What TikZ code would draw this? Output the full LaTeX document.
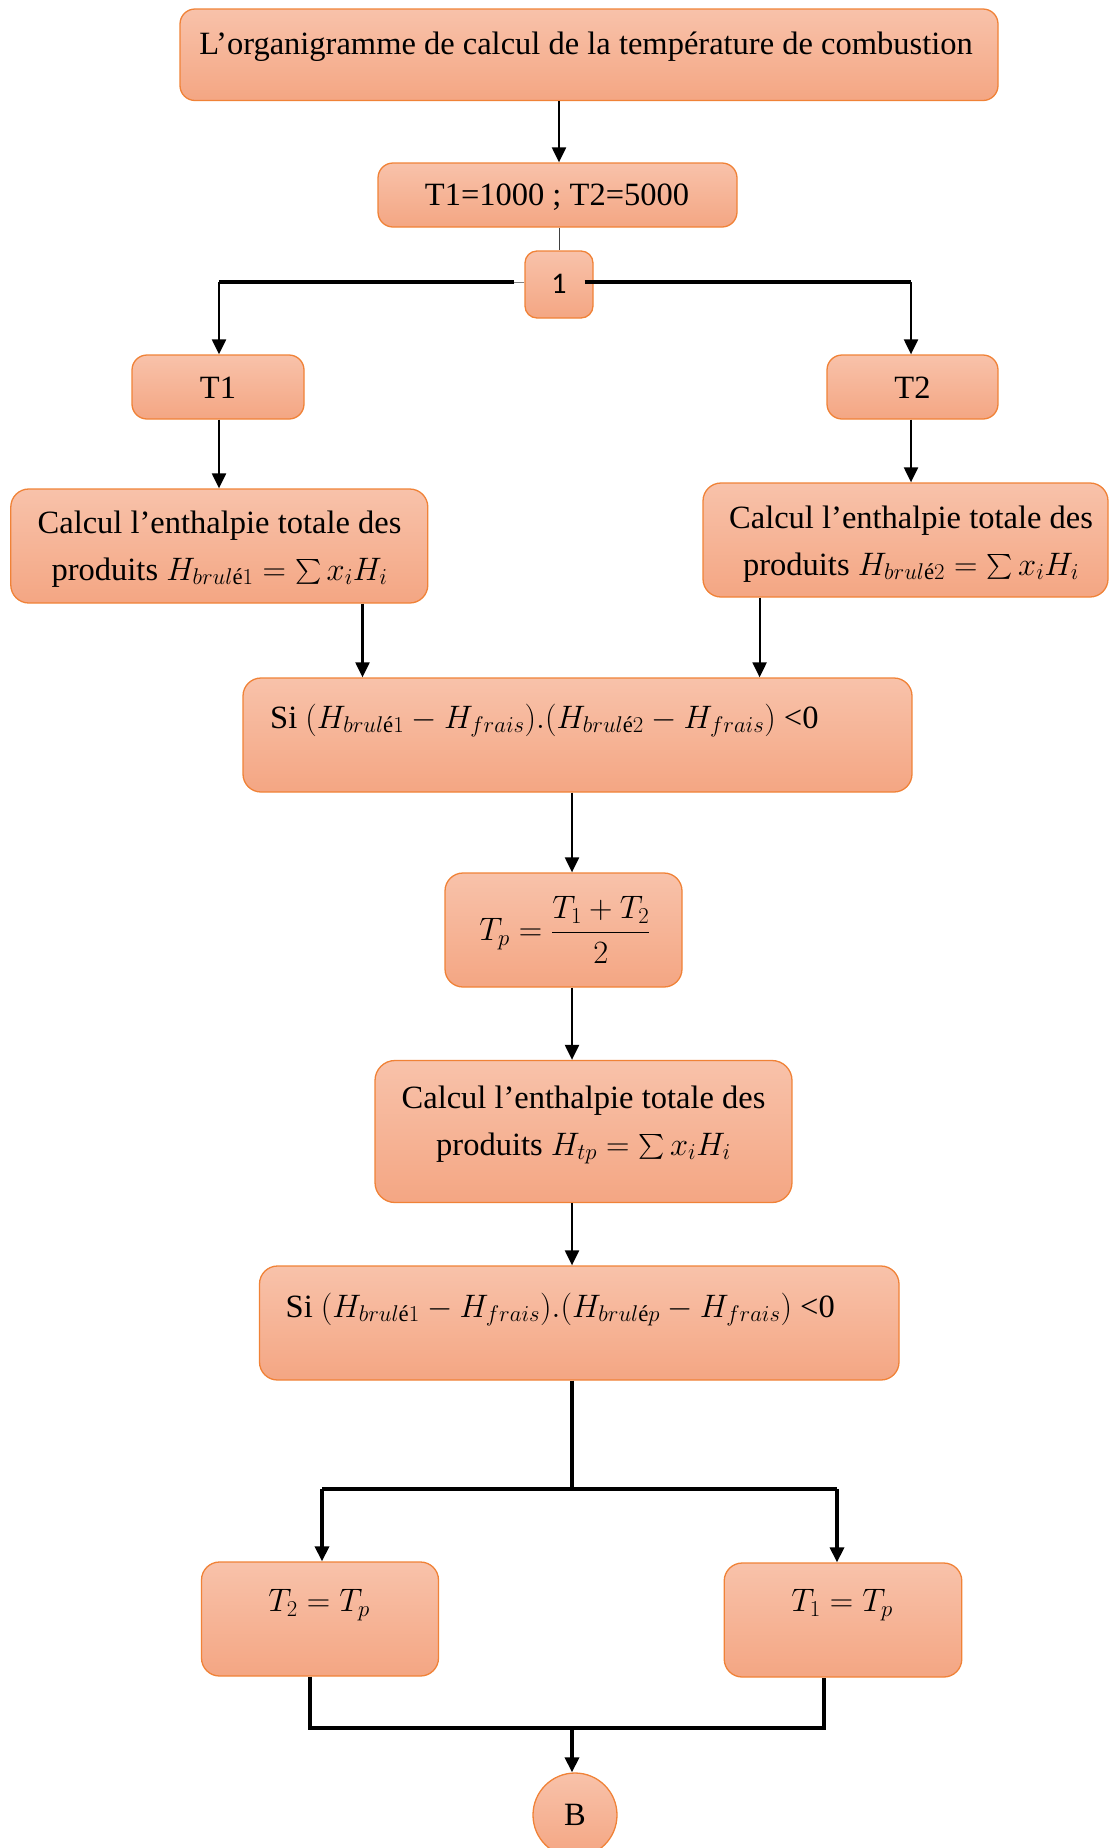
\RequirePackage{fix-cm}
\documentclass[tikz,border=0pt]{standalone}
\usepackage{amsmath}
\usepackage{fontspec}
\setmainfont{Liberation Serif}
\newfontfamily\numfont{Carlito}
\usetikzlibrary{arrows.meta}

\definecolor{boxtop}{RGB}{248,194,170}
\definecolor{boxbot}{RGB}{244,166,131}
\definecolor{boxline}{RGB}{240,130,55}

\begin{document}
\begin{tikzpicture}[x=1pt,y=-1pt,
  box/.style={draw=boxline, line width=1.3pt, top color=boxtop, bottom color=boxbot,
              rounded corners=15pt, inner sep=0pt},
  txt/.style={font=\fontsize{32.5}{40}\selectfont, inner sep=0pt},
  twoline/.style={font=\fontsize{32.5}{47}\selectfont, inner sep=0pt, align=center, anchor=base},
  arr/.style={line width=2.2pt, -{Triangle[length=15pt,width=14pt]}},
  arrb/.style={line width=3.3pt, -{Triangle[length=15pt,width=14pt]}},
  thickline/.style={line width=3.3pt, line join=miter},
  branchline/.style={line width=4pt}
]
\useasboundingbox (0,0) rectangle (1110,1848);

% ---------- boxes ----------
\node[box, minimum width=818pt, minimum height=91.5pt] (title) at (589,54.75) {};
\node[box, minimum width=359pt, minimum height=64pt] (init) at (557.5,195) {};
\node[box, rounded corners=12pt, minimum width=68pt, minimum height=67pt] (one) at (559,284.5) {};
\node[box, minimum width=172pt, minimum height=64pt] (T1) at (218,387) {};
\node[box, minimum width=171pt, minimum height=64pt] (T2) at (912.5,387) {};
\node[box, rounded corners=18pt, minimum width=417pt, minimum height=114pt] (C1) at (219.3,546) {};
\node[box, rounded corners=18pt, minimum width=405pt, minimum height=114pt] (C2) at (905.5,540) {};
\node[box, rounded corners=18pt, minimum width=669pt, minimum height=114pt] (Si1) at (577.5,735) {};
\node[box, rounded corners=18pt, minimum width=237pt, minimum height=114pt] (Tp) at (563.5,930) {};
\node[box, rounded corners=20pt, minimum width=417pt, minimum height=142pt] (C3) at (583.5,1131.5) {};
\node[box, rounded corners=18pt, minimum width=639.5pt, minimum height=114pt] (Si2) at (579.25,1323) {};
\node[box, rounded corners=18pt, minimum width=237pt, minimum height=114pt] (L) at (320,1619) {};
\node[box, rounded corners=18pt, minimum width=237.6pt, minimum height=114pt] (R) at (843,1620) {};
\node[box, circle, minimum size=84pt] (B) at (575,1815) {};

% ---------- texts (two-line texts are placed by their last baseline) ----------
\node[txt, anchor=base] (titletxt) at (586,54) {L’organigramme de calcul de la température de combustion};
\node[txt, anchor=base] (inittxt) at (557,205) {T1=1000 ; T2=5000};
\node[txt, anchor=base, font=\numfont\fontsize{30}{36}\selectfont] (onetxt) at (559,293) {1};
\node[txt, anchor=base] (T1txt) at (218,398) {T1};
\node[txt, anchor=base] (T2txt) at (912.5,398) {T2};
\node[twoline] (C1txt) at (219.5,580)
  {Calcul l’enthalpie totale des\\ produits $H_{brul\text{é}1} = \sum x_i H_i$};
\node[twoline] (C2txt) at (911,575)
  {Calcul l’enthalpie totale des\\ produits $H_{brul\text{é}2} = \sum x_i H_i$};
\node[txt, anchor=base west] (Si1txt) at (270,728)
  {Si $(H_{brul\text{é}1} - H_{frais}).(H_{brul\text{é}2} - H_{frais})$ <0};
\node[txt] (Tptxt) at (565,930) {$T_p = \dfrac{T_1 + T_2}{2}$};
\node[twoline] (C3txt) at (583.5,1155)
  {Calcul l’enthalpie totale des\\ produits $H_{tp} = \sum x_i H_i$};
\node[txt, anchor=base west] (Si2txt) at (285.5,1317)
  {Si $(H_{brul\text{é}1} - H_{frais}).(H_{brul\text{é}p} - H_{frais})$ <0};
\node[txt] (Ltxt) at (319,1605) {$T_2 = T_p$};
\node[txt] (Rtxt) at (842,1605) {$T_1 = T_p$};
\node[txt] (Btxt) at (575,1815) {B};

% ---------- connectors ----------
\coordinate (jl) at (219,282);
\coordinate (jr) at (911,282);
\coordinate (xa) at (362.5,0);
\coordinate (xb) at (759.6,0);
\coordinate (xm) at (572,0);
\coordinate (j2) at (572,1489);
\coordinate (j2l) at (322,1489);
\coordinate (j2r) at (837,1489);
\coordinate (j3) at (572,1728);
\coordinate (j3l) at (310,1728);
\coordinate (j3r) at (824,1728);

\draw[arr] (title.south -| one.north) -- (init.north -| one.north);
\draw[line width=1pt, black!75] (init.south -| one.north) -- (one.north);

\draw[line width=0.8pt, gray] (one.west |- jl) -- ++(-10,0) coordinate (jl0);
\draw[branchline] (jl0) -- (jl);
\draw[branchline] ([xshift=-9pt]one.east |- jr) -- (jr);
\draw[arr] (jl) -- (jl |- T1.north);
\draw[arr] (jr) -- (jr |- T2.north);

\draw[arr] (T1.south -| jl) -- (C1.north -| jl);
\draw[arr] (T2.south -| jr) -- (C2.north -| jr);
\draw[arr] (C1.south -| xa) -- (Si1.north -| xa);
\draw[arr] (C2.south -| xb) -- (Si1.north -| xb);
\draw[arr] (Si1.south -| xm) -- (Tp.north -| xm);
\draw[arr] (Tp.south -| xm) -- (C3.north -| xm);
\draw[arr] (C3.south -| xm) -- (Si2.north -| xm);

\draw[thickline] (Si2.south -| xm) -- (j2);
\draw[thickline] (j2l) -- (j2r);
\draw[arrb] (j2l) -- (j2l |- L.north);
\draw[arrb] (j2r) -- (j2r |- R.north);

\draw[thickline] (L.south -| j3l) -- (j3l) -- (j3r) -- (R.south -| j3r);
\draw[arrb] (j3) -- (j3 |- B.north);
\end{tikzpicture}
\end{document}
